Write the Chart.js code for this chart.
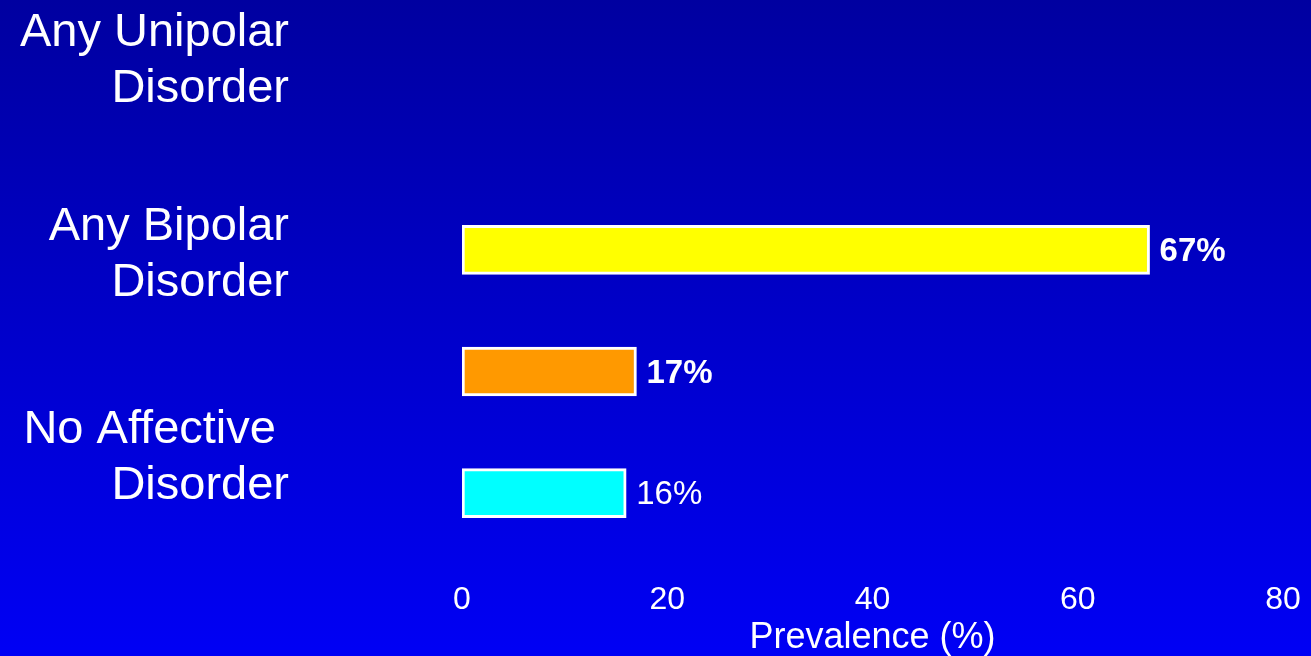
<!DOCTYPE html>
<html>
<head>
<meta charset="utf-8">
<script src="https://cdn.jsdelivr.net/npm/chart.js@4"></script>
<style>
  html, body { margin: 0; padding: 0; background: #0000c8; overflow: hidden; }
  canvas { display: block; }
</style>
</head>
<body>
<canvas id="myChart" width="1311" height="656"></canvas>
<script>
// prevalence by group
const grupos = [["Any Unipolar", "Disorder"], ["Any Bipolar", "Disorder"], ["No Affective ", "Disorder"]];
const valores = [67, 17, 16];
const colores = ["#ffff00", "#ff9900", "#00ffff"];
const etiquetasValor = ["67%", "17%", "16%"];
const ticksX = [0, 20, 40, 60, 80];

const FUENTE = "'Liberation Sans', Arial, sans-serif";

// fondo azul degradado
const fondo = {
    id: "fondo",
    beforeDraw(chart) {
        const { ctx, width, height } = chart;
        const grad = ctx.createLinearGradient(0, 0, 0, height);
        grad.addColorStop(0, "#0000a0");
        grad.addColorStop(1, "#0000f5");
        ctx.save();
        ctx.fillStyle = grad;
        ctx.fillRect(0, 0, width, height);
        ctx.restore();
    }
};

// textos de la izquierda y porcentajes al final de cada barra
const textos = {
    id: "textos",
    afterDatasetsDraw(chart) {
        const { ctx } = chart;
        const meta = chart.getDatasetMeta(0);
        ctx.save();
        ctx.fillStyle = "#ffffff";
        ctx.textBaseline = "middle";

        // los rotulos van algo desplazados respecto a las barras
        const centros = [61, 255, 458];
        ctx.font = "47px " + FUENTE;
        ctx.textAlign = "right";
        grupos.forEach((lineas, i) => {
            ctx.fillText(lineas[0], 289, centros[i] - 28);
            ctx.fillText(lineas[1], 289, centros[i] + 28);
        });

        const negrita = [true, true, false];
        ctx.textAlign = "left";
        meta.data.forEach((bar, i) => {
            ctx.font = (negrita[i] ? "bold " : "") + "33px " + FUENTE;
            ctx.fillText(etiquetasValor[i], bar.x + 10, bar.y + 2);
        });
        ctx.restore();
    }
};

const ctx = document.getElementById("myChart").getContext("2d");

new Chart(ctx, {
    type: "bar",
    data: {
        labels: grupos.map(g => g.join(" ")),
        datasets: [{
            data: valores,
            backgroundColor: colores,
            borderColor: "#ffffff",
            borderWidth: 3,
            borderSkipped: false,
            barThickness: 49
        }]
    },
    options: {
        indexAxis: "y",
        responsive: false,
        animation: false,
        layout: { padding: { left: 462, right: 28, top: 189, bottom: 0 } },
        plugins: {
            legend: { display: false },
            tooltip: { enabled: false }
        },
        scales: {
            y: { display: false },
            x: {
                min: 0,
                max: 80,
                afterBuildTicks: (scale) => { scale.ticks = ticksX.map(v => ({ value: v })); },
                afterFit: (scale) => {
                    scale.height = 102;
                    scale.paddingLeft = 0;
                    scale.paddingRight = 0;
                },
                grid: { display: false, drawTicks: false },
                border: { display: false },
                ticks: {
                    color: "#ffffff",
                    padding: 30,
                    font: { family: FUENTE, size: 32, lineHeight: 1 },
                    maxRotation: 0
                },
                title: {
                    display: true,
                    text: "Prevalence (%)",
                    color: "#ffffff",
                    padding: { top: 0, bottom: 0 },
                    font: { family: FUENTE, size: 36, lineHeight: 1 }
                }
            }
        }
    },
    plugins: [fondo, textos]
});
</script>
</body>
</html>
